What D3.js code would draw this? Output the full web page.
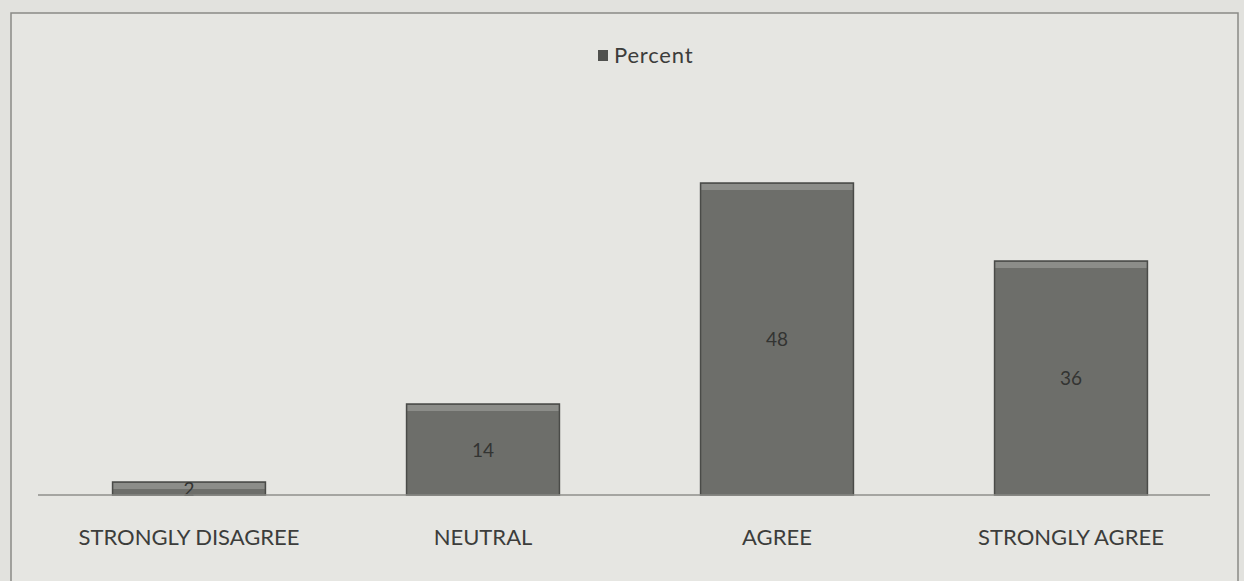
<!DOCTYPE html>
<meta charset="utf-8">
<script src="https://d3js.org/d3.v7.min.js"></script>
<style>
  body { margin: 0; background: #e2e2de; }
  text { font-family: Lato, "Open Sans", sans-serif; }
</style>
<body>
<div id="chart"></div>
<script>
// data
var categories = ["STRONGLY DISAGREE", "NEUTRAL", "AGREE", "STRONGLY AGREE"];
var percents = [2, 14, 48, 36];
var seriesName = "Percent";

var W = 1244, H = 581;

var svg = d3.select("#chart")
  .append("svg")
  .attr("width", W)
  .attr("height", H);

// chart frame
svg.append("rect")
  .attr("x", 11).attr("y", 13)
  .attr("width", 1227).attr("height", 580)
  .attr("fill", "#e6e6e2")
  .attr("stroke", "#8a8a86")
  .attr("stroke-width", 1.5);

// scales
var x = d3.scaleBand()
  .domain(categories)
  .range([42, 1218])
  .paddingInner(0.48)
  .paddingOuter(0.24);

var y = d3.scaleLinear()
  .domain([0, 50])
  .range([495, 170]);

// bars
var bars = svg.selectAll(".bar")
  .data(percents)
  .enter()
  .append("g")
  .attr("class", "bar");

bars.append("rect")
  .attr("x", function(d, i) { return x(categories[i]); })
  .attr("y", function(d) { return y(d); })
  .attr("width", x.bandwidth())
  .attr("height", function(d) { return y(0) - y(d); })
  .attr("fill", "#6d6e6a")
  .attr("stroke", "#4a4b48")
  .attr("stroke-width", 1.5);

// light bevel at the top of each bar
bars.append("rect")
  .attr("x", function(d, i) { return x(categories[i]) + 1; })
  .attr("y", function(d) { return y(d) + 1; })
  .attr("width", x.bandwidth() - 2)
  .attr("height", function(d) { return Math.min(6, y(0) - y(d) - 2); })
  .attr("fill", "#8c8d89");

// value labels
bars.append("text")
  .attr("x", function(d, i) { return x(categories[i]) + x.bandwidth() / 2; })
  .attr("y", function(d) { return (y(d) + y(0)) / 2 + 7; })
  .attr("text-anchor", "middle")
  .style("font-size", "19px")
  .style("fill", "#333432")
  .text(function(d) { return d; });

// baseline
svg.append("line")
  .attr("x1", 38).attr("x2", 1210)
  .attr("y1", y(0)).attr("y2", y(0))
  .attr("stroke", "#8f8f8b")
  .attr("stroke-width", 1.5);

// category labels
svg.selectAll(".cat")
  .data(categories)
  .enter()
  .append("text")
  .attr("class", "cat")
  .attr("x", function(d) { return x(d) + x.bandwidth() / 2; })
  .attr("y", 545)
  .attr("text-anchor", "middle")
  .style("font-size", "22px")
  .style("fill", "#3c3d3b")
  .text(function(d) { return d; });

// legend
svg.append("rect")
  .attr("x", 598).attr("y", 50)
  .attr("width", 10).attr("height", 11)
  .attr("fill", "#50514e");

svg.append("text")
  .attr("x", 614).attr("y", 63)
  .style("font-size", "22px")
  .style("letter-spacing", "0.8px")
  .style("fill", "#3c3d3b")
  .text(seriesName);
</script>
</body>
